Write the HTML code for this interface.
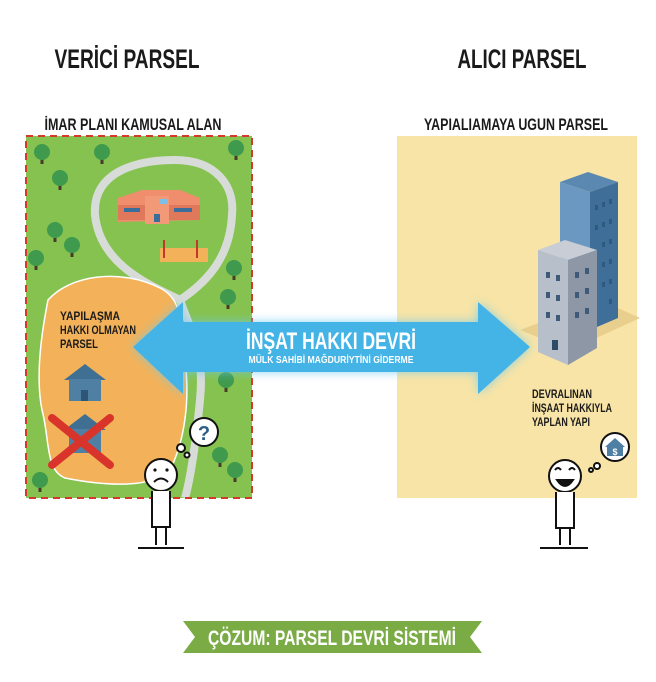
<!DOCTYPE html>
<html><head><meta charset="utf-8"><style>
html,body{margin:0;padding:0;background:#fff;}
svg{display:block;}
text{font-family:"Liberation Sans Narrow","Liberation Sans",sans-serif;font-weight:bold;}
</style></head><body>
<svg width="656" height="682" viewBox="0 0 656 682" xmlns="http://www.w3.org/2000/svg">
<defs>
<filter id="glow" x="-10%" y="-30%" width="120%" height="160%"><feGaussianBlur stdDeviation="5"/></filter>
<g id="tree"><rect x="-1.5" y="4" width="3" height="8" fill="#4a3a2a"/><circle cx="0" cy="0" r="8" fill="#3f9a4e"/></g>
</defs>
<rect width="656" height="682" fill="#fff"/>
<text x="127" y="68" font-size="27" text-anchor="middle" fill="#1a1a1a" textLength="145" lengthAdjust="spacingAndGlyphs">VERİCİ PARSEL</text>
<text x="522" y="68" font-size="27" text-anchor="middle" fill="#1a1a1a" textLength="129" lengthAdjust="spacingAndGlyphs">ALICI PARSEL</text>
<text x="133" y="130" font-size="17" text-anchor="middle" fill="#1a1a1a" textLength="177" lengthAdjust="spacingAndGlyphs">İMAR PLANI KAMUSAL ALAN</text>
<text x="516" y="130" font-size="17" text-anchor="middle" fill="#1a1a1a" textLength="184" lengthAdjust="spacingAndGlyphs">YAPIALIAMAYA UGUN PARSEL</text>

<!-- left panel -->
<rect x="26" y="136" width="226" height="362" fill="#86c24f"/>
<path d="M180 300 C150 285 100 265 95 215 C92 170 140 160 175 160 C215 160 235 185 232 215 C230 255 210 280 180 300 C190 330 205 350 200 400 C195 450 190 480 185 498" fill="none" stroke="#d8dcd8" stroke-width="8"/>
<path d="M48 300 C70 275 120 268 160 288 C185 300 180 330 185 360 C190 400 185 440 170 470 C150 490 100 485 65 478 C45 470 50 440 42 410 C36 380 40 340 48 300 Z" fill="#f3b259" stroke="#fff" stroke-width="1.5"/>
<!-- school -->
<polygon points="118,198 142,190 180,190 200,198 200,220 118,222" fill="#ef8d6d"/>
<rect x="118" y="205" width="82" height="15" fill="#e0795c"/>
<rect x="145" y="196" width="24" height="28" fill="#f29a78"/>
<rect x="154" y="214" width="6" height="8" fill="#3a6d9a"/>
<rect x="124" y="208" width="16" height="4" fill="#3a6d9a"/><rect x="174" y="208" width="18" height="4" fill="#3a6d9a"/>
<rect x="159" y="199" width="8" height="5" fill="#7cc0e8"/>
<rect x="160" y="248" width="48" height="14" fill="#f3b259"/>
<rect x="163" y="240" width="2" height="18" fill="#c0392b"/><rect x="196" y="240" width="2" height="18" fill="#c0392b"/>
<use href="#tree" x="42" y="152"/><use href="#tree" x="102" y="152"/><use href="#tree" x="236" y="148"/>
<use href="#tree" x="60" y="178"/><use href="#tree" x="55" y="230"/><use href="#tree" x="72" y="245"/>
<use href="#tree" x="36" y="258"/><use href="#tree" x="234" y="268"/><use href="#tree" x="228" y="297"/>
<use href="#tree" x="226" y="380"/><use href="#tree" x="220" y="455"/><use href="#tree" x="235" y="470"/>
<use href="#tree" x="40" y="480"/>
<text font-size="12" fill="#1a1a1a"><tspan x="60" y="320" textLength="60" lengthAdjust="spacingAndGlyphs">YAPILAŞMA</tspan><tspan x="60" y="334" textLength="76" lengthAdjust="spacingAndGlyphs">HAKKI OLMAYAN</tspan><tspan x="60" y="348" textLength="38" lengthAdjust="spacingAndGlyphs">PARSEL</tspan></text>
<polygon points="64,380 85,364 106,380" fill="#3f6f92"/><rect x="69" y="379" width="32" height="22" fill="#4f7fa3"/><rect x="81" y="390" width="7" height="11" fill="#2d5575"/>
<polygon points="64,430 85,414 106,430" fill="#3f6f92"/><rect x="69" y="429" width="32" height="24" fill="#4f7fa3"/>
<path d="M52 418 L110 465 M110 418 L52 465" stroke="#d9342b" stroke-width="8" stroke-linecap="round"/>
<rect x="26" y="136" width="226" height="362" fill="none" stroke="#d33a2c" stroke-width="2" stroke-dasharray="7 5"/>

<!-- right panel -->
<rect x="397" y="136" width="240" height="362" fill="#f8e4a6"/>
<polygon points="520,330 600,300 640,318 570,350" fill="#e9cf8e"/>
<polygon points="560,182 588,172 618,182 590,192" fill="#5b88b0"/>
<polygon points="560,182 590,192 590,330 560,320" fill="#6b98c0"/>
<polygon points="590,192 618,182 618,318 590,330" fill="#3f6f98"/>
<g fill="#2f5a80"><rect x="595" y="205" width="3" height="5"/><rect x="602" y="202" width="3" height="5"/><rect x="609" y="199" width="3" height="5"/><rect x="595" y="225" width="3" height="5"/><rect x="602" y="222" width="3" height="5"/><rect x="609" y="219" width="3" height="5"/><rect x="602" y="242" width="3" height="5"/><rect x="609" y="239" width="3" height="5"/><rect x="602" y="262" width="3" height="5"/><rect x="609" y="259" width="3" height="5"/><rect x="602" y="282" width="3" height="5"/><rect x="609" y="279" width="3" height="5"/><rect x="609" y="299" width="3" height="5"/></g>
<polygon points="538,250 565,240 597,250 568,260" fill="#c9ced6"/>
<polygon points="538,250 568,260 568,365 538,352" fill="#b7bfca"/>
<polygon points="568,260 597,250 597,348 568,365" fill="#8d97a6"/>
<g fill="#3f5a78"><rect x="546" y="272" width="4" height="6"/><rect x="556" y="275" width="4" height="6"/><rect x="546" y="292" width="4" height="6"/><rect x="556" y="295" width="4" height="6"/><rect x="546" y="312" width="4" height="6"/><rect x="556" y="315" width="4" height="6"/><rect x="575" y="272" width="4" height="6"/><rect x="585" y="268" width="4" height="6"/><rect x="575" y="292" width="4" height="6"/><rect x="585" y="288" width="4" height="6"/><rect x="575" y="312" width="4" height="6"/><rect x="585" y="308" width="4" height="6"/><rect x="552" y="340" width="6" height="10" fill="#2d4a66"/></g>
<text font-size="12" fill="#1a1a1a"><tspan x="532" y="398" textLength="60" lengthAdjust="spacingAndGlyphs">DEVRALINAN</tspan><tspan x="532" y="412" textLength="80" lengthAdjust="spacingAndGlyphs">İNŞAAT HAKKIYLA</tspan><tspan x="532" y="426" textLength="58" lengthAdjust="spacingAndGlyphs">YAPLAN YAPI</tspan></text>

<!-- arrow -->
<path d="M133 347 L183 302 L183 322 L478 322 L478 302 L530 347 L478 394 L478 372 L183 372 L183 394 Z" fill="#6ccaf0" filter="url(#glow)" opacity="0.8"/>
<path d="M133 347 L183 302 L183 322 L478 322 L478 302 L530 347 L478 394 L478 372 L183 372 L183 394 Z" fill="#44b3e6"/>
<text x="331" y="349" font-size="24" text-anchor="middle" fill="#fff" textLength="170" lengthAdjust="spacingAndGlyphs">İNŞAT HAKKI DEVRİ</text>
<text x="331" y="363" font-size="10" text-anchor="middle" fill="#fff" textLength="165" lengthAdjust="spacingAndGlyphs">MÜLK SAHİBİ MAĞDURİYTİNİ GİDERME</text>

<!-- sad person -->
<g stroke="#111" stroke-width="2" fill="#fff">
<circle cx="204" cy="432" r="14"/><circle cx="187" cy="455" r="2.5"/><circle cx="181" cy="448" r="4"/>
<circle cx="161" cy="475" r="16"/>
<path d="M152 491 L152 527 L170 527 L170 491"/><path d="M156 527 L156 545 M166 527 L166 545 M138 548 L184 548" fill="none"/>
<path d="M154 482 Q161 475 168 482" fill="none"/>
</g>
<circle cx="155" cy="470" r="1.6" fill="#111"/><circle cx="167" cy="470" r="1.6" fill="#111"/>
<text x="204" y="440" font-size="20" text-anchor="middle" fill="#2d5f86">?</text>
<!-- happy person -->
<g stroke="#111" stroke-width="2" fill="#fff">
<circle cx="615" cy="447" r="14"/><circle cx="597" cy="466" r="3"/><circle cx="591" cy="470" r="2"/>
<circle cx="565" cy="476" r="16"/>
<path d="M556 492 L556 528 L574 528 L574 492"/><path d="M560 528 L560 545 M570 528 L570 545 M540 548 L588 548" fill="none"/>
<path d="M557 480 Q565 492 573 480 Z" fill="#111"/>
<path d="M555 470 Q558 466 561 470 M569 470 Q572 466 575 470" fill="none"/>
</g>
<polygon points="605,447 615,438 625,447 623,447 623,456 607,456 607,447" fill="#4f7fa3"/>
<text x="615" y="455" font-size="9" text-anchor="middle" fill="#fff">$</text>

<!-- banner -->
<polygon points="183,621 482,621 470,637 482,653 183,653 195,637" fill="#7aab45"/>
<text x="332" y="645" font-size="21" text-anchor="middle" fill="#fff" textLength="248" lengthAdjust="spacingAndGlyphs">ÇÖZUM: PARSEL DEVRİ SİSTEMİ</text>
</svg>
</body></html>
